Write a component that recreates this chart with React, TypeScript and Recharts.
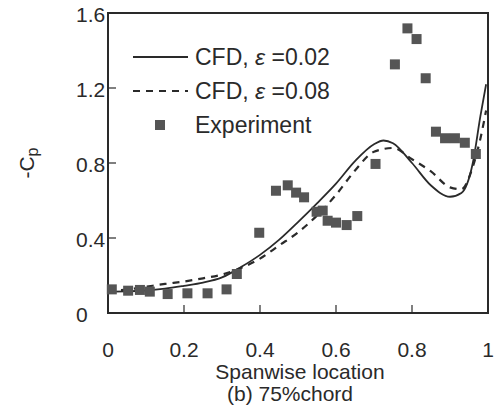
import { ComposedChart, Line, Scatter, XAxis, YAxis, ReferenceArea, Legend } from "recharts";

const cfd02X = [0, 0.05, 0.1, 0.15, 0.2, 0.25, 0.3, 0.35, 0.4, 0.45, 0.5, 0.55, 0.6, 0.65, 0.7, 0.725, 0.75, 0.8, 0.85, 0.9, 0.93, 0.96, 0.98, 0.995];
const cfd02Y = [0.114, 0.115, 0.12, 0.13, 0.145, 0.162, 0.19, 0.245, 0.31, 0.39, 0.485, 0.585, 0.69, 0.81, 0.9, 0.92, 0.905, 0.8, 0.68, 0.62, 0.64, 0.8, 1.05, 1.22];

const cfd08X = [0, 0.05, 0.1, 0.15, 0.2, 0.25, 0.3, 0.35, 0.4, 0.45, 0.5, 0.55, 0.6, 0.65, 0.7, 0.75, 0.8, 0.85, 0.9, 0.93, 0.96, 0.98, 0.995];
const cfd08Y = [0.12, 0.125, 0.14, 0.155, 0.168, 0.185, 0.205, 0.24, 0.29, 0.36, 0.43, 0.52, 0.63, 0.76, 0.86, 0.88, 0.82, 0.755, 0.67, 0.66, 0.78, 0.93, 1.08];

const expX = [0.01, 0.053, 0.084, 0.11, 0.157, 0.209, 0.262, 0.312, 0.339, 0.398, 0.442, 0.473, 0.495, 0.516, 0.549, 0.565, 0.578, 0.6, 0.628, 0.656, 0.704, 0.755, 0.788, 0.812, 0.836, 0.863, 0.887, 0.913, 0.939, 0.968];
const expY = [0.126, 0.119, 0.123, 0.114, 0.101, 0.105, 0.105, 0.126, 0.208, 0.428, 0.652, 0.681, 0.642, 0.617, 0.54, 0.546, 0.492, 0.482, 0.469, 0.517, 0.795, 1.326, 1.518, 1.461, 1.252, 0.967, 0.932, 0.932, 0.908, 0.848];

const xTicks = [0, 0.2, 0.4, 0.6, 0.8, 1];
const yTicks = [0, 0.4, 0.8, 1.2, 1.6];

const FONT = "'Liberation Sans', Arial, sans-serif";
const INK = "#2a2a2a";

const cfd02 = cfd02X.map((x, i) => ({ x, y: cfd02Y[i] }));
const cfd08 = cfd08X.map((x, i) => ({ x, y: cfd08Y[i] }));
const exp = expX.map((x, i) => ({ x, y: expY[i] }));

function XTick({ x, y, payload }: any) {
  return (
    <g>
      <line x1={x} x2={x} y1={y} y2={y - 8} stroke={INK} strokeWidth={1.2} />
      <text x={x} y={y + 44} textAnchor="middle" fontSize={21} fontFamily={FONT} fill={INK}>
        {payload.value}
      </text>
    </g>
  );
}

function YTick({ x, y, payload }: any) {
  return (
    <g>
      <line x1={x} x2={x + 8} y1={y} y2={y} stroke={INK} strokeWidth={1.2} />
      <text x={76} y={y + 9} textAnchor="start" fontSize={21} fontFamily={FONT} fill={INK}>
        {payload.value === 0 ? "0" : payload.value.toFixed(1)}
      </text>
    </g>
  );
}

function Square({ cx, cy }: any) {
  return <rect x={cx - 5} y={cy - 5} width={10} height={10} fill="#555" />;
}

function LegendBox() {
  const row = { display: "flex", alignItems: "center", height: 34, fontSize: 23, fontFamily: FONT, color: INK } as const;
  return (
    <div>
      <div style={row}>
        <svg width={62} height={10}><line x1={0} x2={55} y1={5} y2={5} stroke={INK} strokeWidth={1.8} /></svg>
        <span>CFD, <i>ε</i> =0.02</span>
      </div>
      <div style={row}>
        <svg width={62} height={10}><line x1={0} x2={55} y1={5} y2={5} stroke={INK} strokeWidth={2.2} strokeDasharray="7 6" /></svg>
        <span>CFD, <i>ε</i> =0.08</span>
      </div>
      <div style={row}>
        <svg width={62} height={12}><rect x={22} y={1} width={10} height={10} fill="#555" /></svg>
        <span>Experiment</span>
      </div>
    </div>
  );
}

export default function App() {
  return (
    <div style={{ position: "absolute", left: 0, top: 0, background: "#fff" }}>
      <ComposedChart width={496} height={405} margin={{ top: 13, right: 8, left: 0, bottom: 0 }}>
        <XAxis
          type="number"
          dataKey="x"
          domain={[0, 1]}
          ticks={xTicks}
          height={92}
          axisLine={false}
          tickLine={false}
          tickSize={0}
          tickMargin={0}
          tick={<XTick />}
          interval={0}
          label={{
            content: () => (
              <g fontFamily={FONT} fontSize={21} fill={INK}>
                <text x={300} y={379} textAnchor="middle">Spanwise location</text>
                <text x={290} y={401} textAnchor="middle">(b) 75%chord</text>
              </g>
            ),
          }}
        />
        <YAxis
          type="number"
          domain={[0, 1.6]}
          ticks={yTicks}
          width={108}
          axisLine={false}
          tickLine={false}
          tickSize={0}
          tickMargin={0}
          tick={<YTick />}
          interval={0}
          label={{
            content: () => (
              <text x={34} y={163} transform="rotate(-90 34 163)" textAnchor="middle" fontFamily={FONT} fontSize={21} fill={INK}>
                -C<tspan fontSize={16} dy={4}>p</tspan>
              </text>
            ),
          }}
        />
        <ReferenceArea x1={0} x2={1} y1={0} y2={1.6} fill="none" stroke={INK} strokeWidth={2} ifOverflow="visible" />
        <Legend
          layout="vertical"
          verticalAlign="middle"
          align="center"
          wrapperStyle={{ left: 133, top: 40, width: 260, height: 110 }}
          content={() => <LegendBox />}
        />
        <Line data={cfd02} dataKey="y" type="monotone" stroke={INK} strokeWidth={1.8} dot={false} isAnimationActive={false} />
        <Line data={cfd08} dataKey="y" type="monotone" stroke={INK} strokeWidth={2.2} strokeDasharray="7 6" dot={false} isAnimationActive={false} />
        <Scatter data={exp} dataKey="y" shape={<Square />} isAnimationActive={false} />
      </ComposedChart>
    </div>
  );
}
